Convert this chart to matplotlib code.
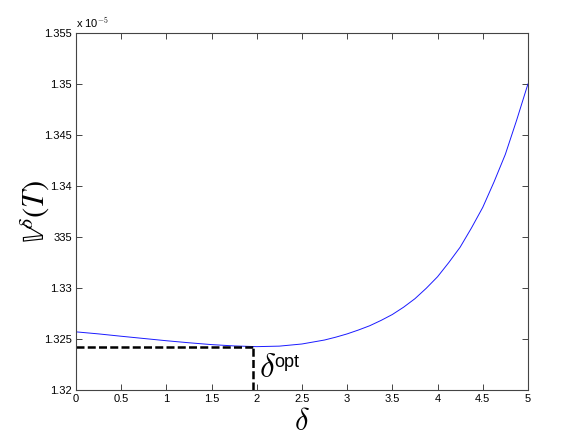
import numpy as np
import matplotlib
matplotlib.use('Agg')
import matplotlib.pyplot as plt

plt.rcParams['font.family'] = ['Liberation Sans', 'DejaVu Sans']
plt.rcParams['mathtext.fontset'] = 'cm'

# curve (values in units of 1e-5)
delta = [0, 0.25, 0.5, 0.75, 1, 1.25, 1.5, 1.75, 2, 2.25, 2.5, 2.75,
         2.875, 3, 3.125, 3.25, 3.375, 3.5, 3.625, 3.75, 3.875, 4,
         4.125, 4.25, 4.375, 4.5, 4.625, 4.75, 4.875, 5]
V = [1.32570, 1.32550, 1.32527, 1.32505, 1.32483, 1.32463, 1.32445, 1.32432,
     1.32425, 1.32430, 1.32451, 1.32490, 1.32518, 1.32550, 1.32588, 1.32630,
     1.32682, 1.32740, 1.32812, 1.32895, 1.32997, 1.33110, 1.33250, 1.33400,
     1.33588, 1.33790, 1.34040, 1.34310, 1.34645, 1.35000]
delta_opt = 1.96
V_opt = 1.32417

yticks = [1.32, 1.325, 1.33, 1.335, 1.34, 1.345, 1.35, 1.355]
ylabels = ['1.32', '1.325', '1.33', '335', '1.34', '1.345', '1.35', '1.355']
xticks = [0, 0.5, 1, 1.5, 2, 2.5, 3, 3.5, 4, 4.5, 5]
xlabels = ['0', '0.5', '1', '1.5', '2', '2.5', '3', '3.5', '4', '4.5', '5']

scale = 1e-5
V = np.array(V) * scale

fig = plt.figure(figsize=(5.84, 4.38), dpi=100)
ax = fig.add_axes([0.130, 0.1096, 0.774, 0.8151])

ax.plot(delta, V, color='#1a1aff', lw=0.7)
ax.plot([0, delta_opt], [V_opt*scale, V_opt*scale], 'k--', lw=1.8, dashes=(3.2, 1.3), clip_on=False)
ax.plot([delta_opt, delta_opt], [yticks[0]*scale, V_opt*scale], 'k--', lw=1.8, dashes=(3.2, 1.3), clip_on=False)

ax.set_xlim(0, 5)
ax.set_ylim(yticks[0]*scale, yticks[-1]*scale)
ax.set_xticks(xticks)
ax.set_xticklabels(xlabels)
ax.set_yticks([t*scale for t in yticks])
ax.set_yticklabels(ylabels)
ax.tick_params(direction='in', length=4, width=0.7, labelsize=8, top=True, right=True,
               color='#444444', pad=3)
for s in ax.spines.values():
    s.set_color('#444444')
    s.set_linewidth(0.8)

ax.text(0, 1.008, r'x 10$^{-5}$', transform=ax.transAxes, fontsize=8, ha='left', va='bottom')
ax.text(delta_opt + 0.06, 1.32127*scale, r'$\delta$', fontsize=24, ha='left', va='baseline')
ax.text(delta_opt + 0.23, 1.32225*scale, 'opt', fontsize=13, ha='left', va='baseline')

ax.set_xlabel(r'$\delta$', fontsize=22, labelpad=2)
yl = ax.set_ylabel(r'$\mathbb{V}^{\delta}(T)$', fontsize=22)
yl.set_math_fontfamily('stix')
ax.yaxis.set_label_coords(-0.053, 0.5)

fig.savefig('out.png', dpi=100)
